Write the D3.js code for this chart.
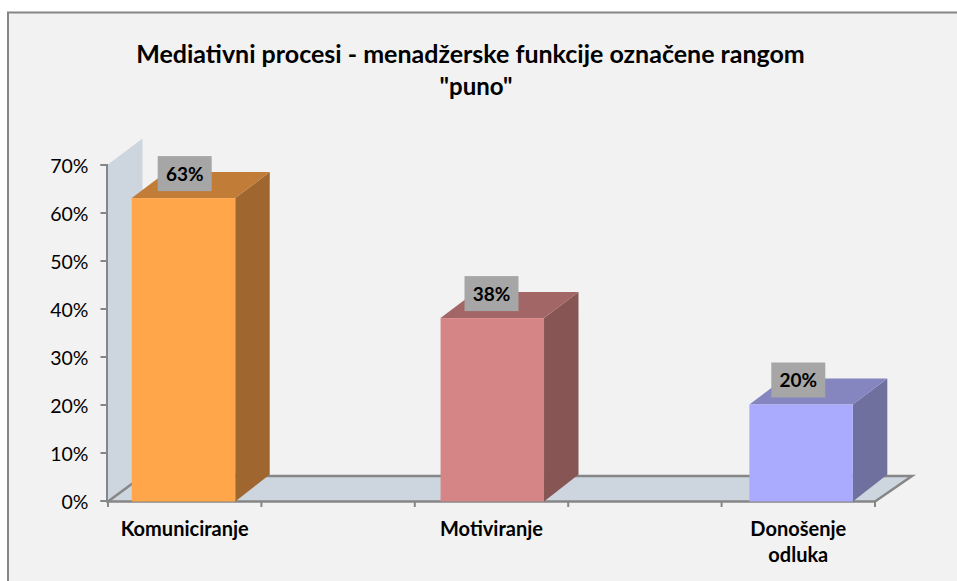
<!DOCTYPE html>
<html>
<head>
<meta charset="utf-8">
<script src="https://cdn.jsdelivr.net/npm/d3@7"></script>
<style>
  html, body { margin: 0; padding: 0; background: #fff; overflow: hidden; }
  text { font-family: Lato, "Open Sans", sans-serif; fill: #000; }
</style>
</head>
<body>
<div id="main"></div>
<script>
// blank categories are how the original keeps the wide gaps between bars
const categories = ["Komuniciranje", "", "Motiviranje", " ", "Donošenje odluka"];
const values = [63, null, 38, null, 20];
const yTicks = [0, 10, 20, 30, 40, 50, 60, 70];
const titleLines = ["Mediativni procesi - menadžerske funkcije označene rangom", "\"puno\""];
const frontColors = ["#ffa54a", null, "#d58585", null, "#aaaaff"];
const topColors = ["#c17c38", null, "#a26666", null, "#8585c0"];
const sideColors = ["#9f672f", null, "#885555", null, "#70709f"];

const ctx = {
    w: 957,
    h: 581,
    DX: 34.5, // depth of the 3d effect
    DY: -26,
    GRAY: "#868686",
    WALL: "#cdd5de",
    BG: "#f2f2f2",
};

const y = d3.scaleLinear().domain([0, 70]).range([500.5, 164.5]);
const x = d3.scaleBand().domain(categories).range([108, 875]);
// bars sit a bit wider apart than the ticks in the original
const xBar = d3.scaleBand().domain(categories).range([106.3, 878.3]).paddingInner(0.33).paddingOuter(0.165);

function pts(list){ return list.map(p => p.join(",")).join(" "); }

function createViz(){
    const svg = d3.select("#main").append("svg")
        .attr("width", ctx.w).attr("height", ctx.h)
        .style("display", "block");

    // frame, runs off the right and bottom of the picture
    svg.append("rect")
        .attr("x", 8).attr("y", 12.5)
        .attr("width", 980).attr("height", 600)
        .attr("fill", ctx.BG)
        .attr("stroke", ctx.GRAY).attr("stroke-width", 2);

    // title
    svg.append("g").selectAll("text")
        .data(titleLines).enter().append("text")
        .attr("x", (d, i) => i === 0 ? 470.5 : 476)
        .attr("y", (d, i) => 63 + i * 32)
        .attr("text-anchor", "middle")
        .attr("font-size", (d, i) => i === 0 ? 25 : 24)
        .attr("font-weight", 700)
        .text(d => d);

    // back wall
    svg.append("polygon")
        .attr("points", pts([[108, y(0)], [108, y(70)], [108 + ctx.DX, y(70) + ctx.DY], [108 + ctx.DX, y(0) + ctx.DY]]))
        .attr("fill", ctx.WALL);

    // floor
    svg.append("polygon")
        .attr("points", pts([[108, y(0) + 1], [108 + ctx.DX, 476], [912, 476], [875, y(0) + 1]]))
        .attr("fill", ctx.WALL);
    svg.append("polyline")
        .attr("points", pts([[108, y(0) + 1], [108 + ctx.DX, 476], [912, 476], [875, y(0) + 1]]))
        .attr("fill", "none").attr("stroke", ctx.GRAY).attr("stroke-width", 2.5);

    // y axis
    const yAxis = d3.axisLeft(y).tickValues(yTicks).tickFormat(d => d + "%").tickSize(6).tickPadding(12);
    const gy = svg.append("g").attr("transform", "translate(106.5,0)").call(yAxis);
    gy.selectAll("path, line").attr("stroke", ctx.GRAY).attr("stroke-width", 2);
    gy.selectAll("text").attr("font-size", 19.5).attr("font-family", "Lato").attr("y", 1.5);

    // x axis, ticks on the band edges
    const edges = categories.map(c => x(c)).concat([875]);
    svg.append("line")
        .attr("x1", 106).attr("x2", 876)
        .attr("y1", 501.5).attr("y2", 501.5)
        .attr("stroke", ctx.GRAY).attr("stroke-width", 2.5);
    svg.append("g").selectAll("line")
        .data(edges).enter().append("line")
        .attr("x1", d => d).attr("x2", d => d)
        .attr("y1", 501.5).attr("y2", 507)
        .attr("stroke", ctx.GRAY).attr("stroke-width", 2);

    // bars: side, top, front
    const bars = categories.map((c, i) => ({c: c, v: values[i], i: i})).filter(d => d.v !== null);
    const g = svg.append("g");
    const w = xBar.bandwidth();
    g.selectAll(".side").data(bars).enter().append("polygon")
        .attr("points", d => {
            const r = xBar(d.c) + w;
            return pts([[r, y(d.v)], [r + ctx.DX, y(d.v) + ctx.DY], [r + ctx.DX, y(0) + ctx.DY], [r, y(0) + 1]]);
        })
        .attr("fill", d => sideColors[d.i]);
    g.selectAll(".top").data(bars).enter().append("polygon")
        .attr("points", d => {
            const l = xBar(d.c), r = l + w;
            return pts([[l, y(d.v)], [l + ctx.DX, y(d.v) + ctx.DY], [r + ctx.DX, y(d.v) + ctx.DY], [r, y(d.v)]]);
        })
        .attr("fill", d => topColors[d.i]);
    g.selectAll(".front").data(bars).enter().append("rect")
        .attr("x", d => xBar(d.c))
        .attr("y", d => y(d.v))
        .attr("width", w)
        .attr("height", d => y(0) + 1 - y(d.v))
        .attr("fill", d => frontColors[d.i]);

    // data labels
    const lab = svg.append("g").selectAll("g").data(bars).enter().append("g")
        .attr("transform", d => "translate(" + (x(d.c) + x.bandwidth() / 2) + "," + (y(d.v) - 24.5) + ")");
    lab.append("rect")
        .attr("x", -27).attr("y", -17.5)
        .attr("width", 54).attr("height", 35)
        .attr("fill", "#a6a6a6");
    lab.append("text")
        .attr("text-anchor", "middle")
        .attr("y", 7)
        .attr("font-size", 19)
        .attr("font-weight", 700)
        .text(d => d.v + "%");

    // category labels, long one wraps on two lines
    const catLab = svg.append("g").selectAll("text").data(bars).enter().append("text")
        .attr("text-anchor", "middle")
        .attr("font-size", 20)
        .attr("font-weight", 700);
    catLab.selectAll("tspan")
        .data(d => {
            const parts = d.c.split(" ");
            return parts.map(p => ({t: p, cx: x(d.c) + x.bandwidth() / 2}));
        })
        .enter().append("tspan")
        .attr("x", d => d.cx)
        .attr("y", (d, i) => 536 + i * 26)
        .text(d => d.t);
}

createViz();
</script>
</body>
</html>
